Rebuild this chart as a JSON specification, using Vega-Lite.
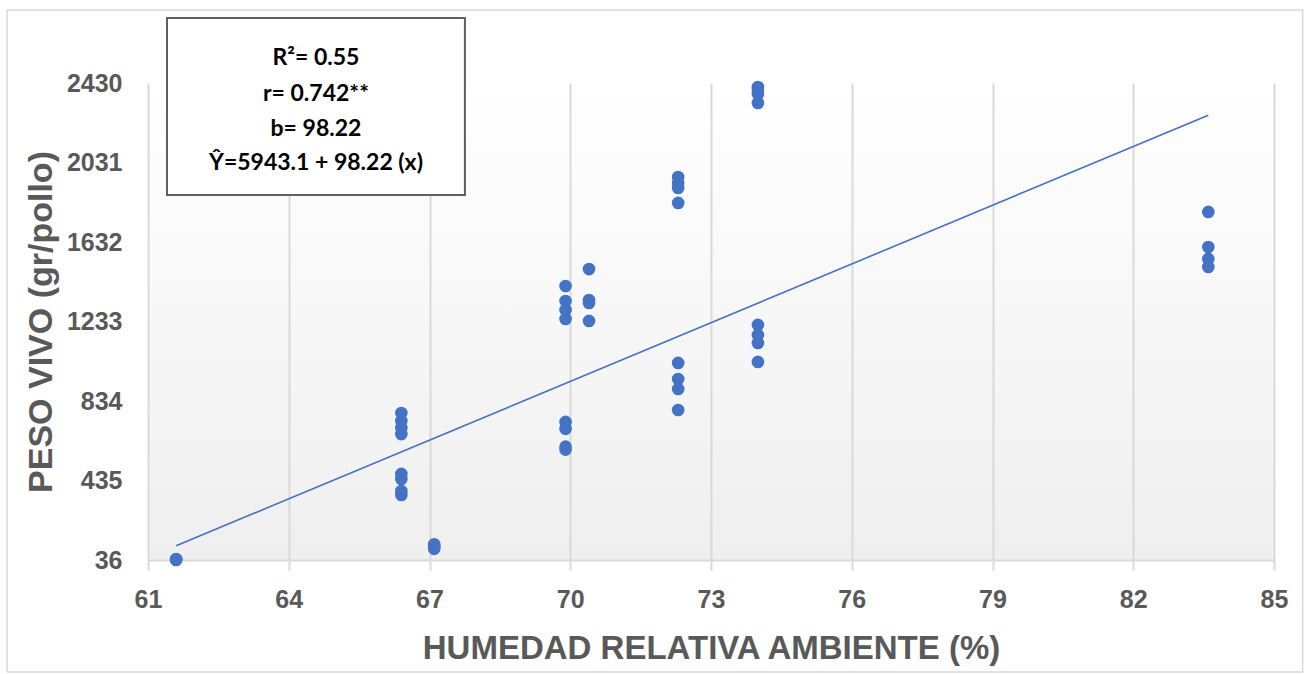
{
  "$schema": "https://vega.github.io/schema/vega-lite/v6.json",
  "width": 1126,
  "height": 477,
  "autosize": {"type": "none"},
  "padding": {"left": 148, "top": 83, "right": 33, "bottom": 114},
  "background": "#ffffff",
  "config": {
    "view": {
      "stroke": null,
      "fill": {"gradient": "linear", "x1": 0, "y1": 0, "x2": 0, "y2": 1,
        "stops": [{"offset": 0, "color": "#ffffff"}, {"offset": 1, "color": "#efefef"}]}
    },
    "font": "Liberation Sans"
  },
  "datasets": {
    "points": [
      {"hr": 61.6, "peso": 36}, {"hr": 61.6, "peso": 38}, {"hr": 61.6, "peso": 41},
      {"hr": 67.1, "peso": 92}, {"hr": 67.1, "peso": 100}, {"hr": 67.1, "peso": 108}, {"hr": 67.1, "peso": 115},
      {"hr": 66.4, "peso": 774}, {"hr": 66.4, "peso": 734}, {"hr": 66.4, "peso": 699}, {"hr": 66.4, "peso": 668},
      {"hr": 66.4, "peso": 468}, {"hr": 66.4, "peso": 443}, {"hr": 66.4, "peso": 382}, {"hr": 66.4, "peso": 362},
      {"hr": 69.9, "peso": 1411}, {"hr": 69.9, "peso": 1336}, {"hr": 69.9, "peso": 1291}, {"hr": 69.9, "peso": 1246},
      {"hr": 69.9, "peso": 729}, {"hr": 69.9, "peso": 694}, {"hr": 69.9, "peso": 605}, {"hr": 69.9, "peso": 590},
      {"hr": 70.4, "peso": 1496}, {"hr": 70.4, "peso": 1341}, {"hr": 70.4, "peso": 1326}, {"hr": 70.4, "peso": 1236},
      {"hr": 72.3, "peso": 1958}, {"hr": 72.3, "peso": 1928}, {"hr": 72.3, "peso": 1903}, {"hr": 72.3, "peso": 1828},
      {"hr": 72.3, "peso": 1025}, {"hr": 72.3, "peso": 944}, {"hr": 72.3, "peso": 894}, {"hr": 72.3, "peso": 789},
      {"hr": 74.0, "peso": 2410}, {"hr": 74.0, "peso": 2395}, {"hr": 74.0, "peso": 2375}, {"hr": 74.0, "peso": 2330},
      {"hr": 74.0, "peso": 1216}, {"hr": 74.0, "peso": 1165}, {"hr": 74.0, "peso": 1125}, {"hr": 74.0, "peso": 1030},
      {"hr": 83.6, "peso": 1783}, {"hr": 83.6, "peso": 1607}, {"hr": 83.6, "peso": 1547}, {"hr": 83.6, "peso": 1507}
    ],
    "trend": [
      {"hr": 61.6, "peso": 107.3},
      {"hr": 83.6, "peso": 2268.1}
    ],
    "one": [{}]
  },
  "layer": [
    {
      "data": {"name": "points"},
      "mark": {"type": "point", "filled": true, "opacity": 1, "size": 160, "color": "#4472c4"},
      "encoding": {
        "x": {
          "field": "hr", "type": "quantitative",
          "scale": {"domain": [61, 85], "nice": false, "zero": false},
          "axis": {
            "values": [61, 64, 67, 70, 73, 76, 79, 82, 85],
            "grid": true, "gridColor": "#d9d9d9", "gridWidth": 2,
            "domainColor": "#d9d9d9", "domainWidth": 2,
            "tickColor": "#d9d9d9", "tickWidth": 2, "tickSize": 10,
            "labelFlush": false,
            "labelFontSize": 25, "labelFontWeight": "bold", "labelColor": "#595959", "labelPadding": 17,
            "title": "HUMEDAD RELATIVA AMBIENTE (%)",
            "titleFontSize": 33, "titleFontWeight": "bold", "titleColor": "#595959", "titlePadding": 20
          }
        },
        "y": {
          "field": "peso", "type": "quantitative",
          "scale": {"domain": [36, 2430], "nice": false, "zero": false},
          "axis": {
            "values": [36, 435, 834, 1233, 1632, 2031, 2430],
            "format": "d",
            "labelFlush": false,
            "grid": false, "domain": false, "ticks": false,
            "labelFontSize": 25, "labelFontWeight": "bold", "labelColor": "#595959", "labelPadding": 26,
            "title": "PESO VIVO (gr/pollo)",
            "titleFontSize": 34, "titleFontWeight": "bold", "titleColor": "#595959", "titlePadding": 8
          }
        }
      }
    },
    {
      "data": {"name": "trend"},
      "mark": {"type": "line", "color": "#4472c4", "strokeWidth": 1.6},
      "encoding": {
        "x": {"field": "hr", "type": "quantitative"},
        "y": {"field": "peso", "type": "quantitative"}
      }
    },
    {
      "data": {"name": "one"},
      "mark": {"type": "rect", "fill": "#ffffff", "stroke": "#5f5f5f", "strokeWidth": 2},
      "encoding": {
        "x": {"datum": 61.405, "type": "quantitative"},
        "x2": {"datum": 67.755},
        "y": {"datum": 2756, "type": "quantitative"},
        "y2": {"datum": 1868}
      }
    },
    {
      "data": {"name": "one"},
      "mark": {"type": "text", "text": "R²= 0.55", "font": "Lato", "fontWeight": "bold", "fontSize": 23, "color": "#000000", "align": "center", "baseline": "alphabetic"},
      "encoding": {"x": {"datum": 64.58, "type": "quantitative"}, "y": {"datum": 2520, "type": "quantitative"}}
    },
    {
      "data": {"name": "one"},
      "mark": {"type": "text", "text": "r= 0.742**", "font": "Lato", "fontWeight": "bold", "fontSize": 23, "color": "#000000", "align": "center", "baseline": "alphabetic"},
      "encoding": {"x": {"datum": 64.58, "type": "quantitative"}, "y": {"datum": 2340, "type": "quantitative"}}
    },
    {
      "data": {"name": "one"},
      "mark": {"type": "text", "text": "b= 98.22", "font": "Lato", "fontWeight": "bold", "fontSize": 23, "color": "#000000", "align": "center", "baseline": "alphabetic"},
      "encoding": {"x": {"datum": 64.58, "type": "quantitative"}, "y": {"datum": 2164, "type": "quantitative"}}
    },
    {
      "data": {"name": "one"},
      "mark": {"type": "text", "text": "Ŷ=5943.1 + 98.22 (x)", "font": "Lato", "fontWeight": "bold", "fontSize": 23, "color": "#000000", "align": "center", "baseline": "alphabetic"},
      "encoding": {"x": {"datum": 64.58, "type": "quantitative"}, "y": {"datum": 1993, "type": "quantitative"}}
    },
    {
      "data": {"name": "one"},
      "mark": {"type": "rect", "fill": null, "stroke": "#d9d9d9", "strokeWidth": 1.5},
      "encoding": {
        "x": {"datum": 57.996, "type": "quantitative"},
        "x2": {"datum": 85.61},
        "y": {"datum": 2796, "type": "quantitative"},
        "y2": {"datum": -526}
      }
    }
  ]
}
